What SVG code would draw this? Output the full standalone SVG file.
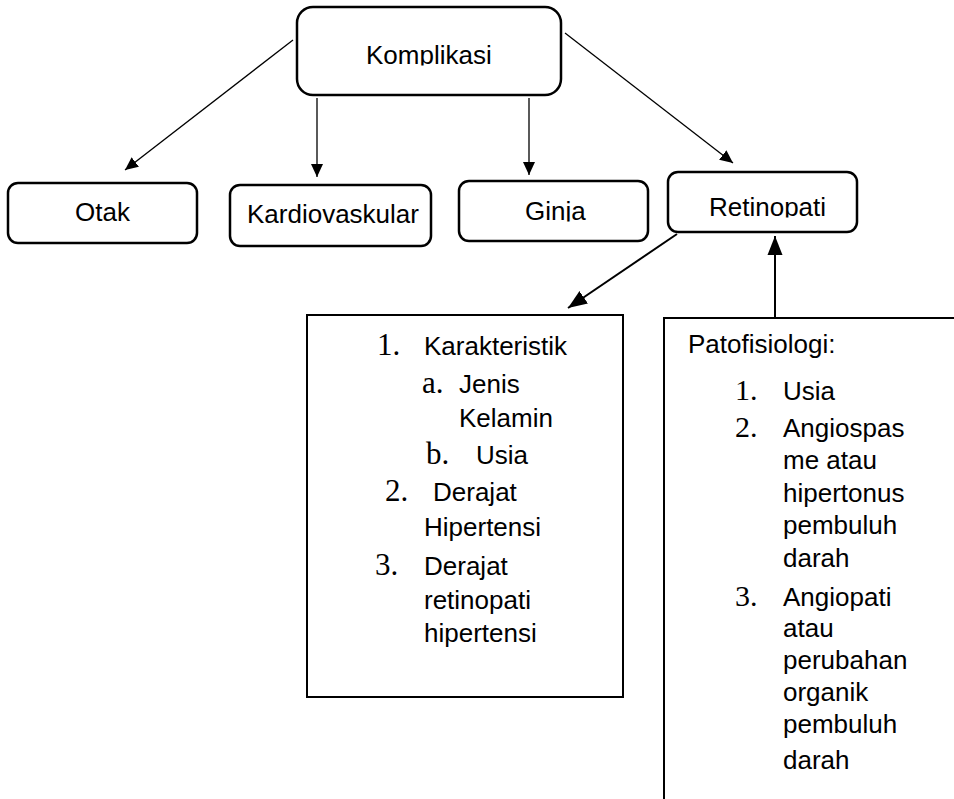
<svg xmlns="http://www.w3.org/2000/svg" width="954" height="799" viewBox="0 0 954 799">
<style>
.box{fill:#fff;stroke:#000;stroke-width:2.5}
.rect{fill:#fff;stroke:#000;stroke-width:2}
.t{font-family:"Liberation Sans",Arial,sans-serif;font-size:26px;fill:#000}
.n{font-family:"Liberation Serif","Times New Roman",serif;font-size:31px;fill:#000}
.n2{font-family:"Liberation Serif","Times New Roman",serif;font-size:30px;fill:#000}
.c{fill:none;stroke:#000;stroke-width:1.3}
.c2{fill:none;stroke:#000;stroke-width:2}
</style>
<defs>
<marker id="ah" markerUnits="userSpaceOnUse" markerWidth="14" markerHeight="14" viewBox="0 0 14 14" refX="13" refY="7" orient="auto">
<path d="M0,1 L13,7 L0,13 Z" fill="#000"/>
</marker>
<marker id="ahL" markerUnits="userSpaceOnUse" markerWidth="20" markerHeight="18" viewBox="0 0 20 18" refX="19" refY="9" orient="auto">
<path d="M0,1.5 L19,9 L0,16.5 Z" fill="#000"/>
</marker>
<clipPath id="clipK"><rect x="300" y="0" width="260" height="65.5"/></clipPath>
<clipPath id="clipG"><rect x="460" y="180" width="188" height="41.5"/></clipPath>
<clipPath id="clipR"><rect x="668" y="172" width="189" height="45.5"/></clipPath>
</defs>

<g id="connectors">
<line class="c" x1="293" y1="40" x2="125" y2="170" marker-end="url(#ah)"/>
<line class="c" x1="317" y1="98" x2="317" y2="177" marker-end="url(#ah)"/>
<line class="c" x1="529" y1="98" x2="529" y2="175" marker-end="url(#ah)"/>
<line class="c" x1="565" y1="33" x2="733" y2="163" marker-end="url(#ah)"/>
<line class="c2" x1="677" y1="234" x2="568" y2="308" marker-end="url(#ahL)"/>
<line class="c2" x1="775" y1="318" x2="775" y2="236" marker-end="url(#ahL)"/>
</g>

<g id="komplikasi">
<rect class="box" x="297" y="7" width="264" height="88" rx="16"/>
<text class="t" x="366" y="64" clip-path="url(#clipK)">Komplikasi</text>
</g>

<g id="otak">
<rect class="box" x="8" y="183" width="189" height="60" rx="10"/>
<text class="t" x="75" y="221">Otak</text>
</g>

<g id="kardiovaskular">
<rect class="box" x="230" y="185" width="201" height="61" rx="10"/>
<text class="t" x="247" y="223">Kardiovaskular</text>
</g>

<g id="ginja">
<rect class="box" x="459" y="181" width="189" height="60" rx="10"/>
<text class="t" x="525" y="220" clip-path="url(#clipG)">Ginja</text>
</g>

<g id="retinopati">
<rect class="box" x="668" y="172" width="189" height="60" rx="10"/>
<text class="t" x="709" y="216" clip-path="url(#clipR)">Retinopati</text>
</g>

<g id="karakteristik">
<rect class="rect" x="307" y="315" width="316" height="382"/>
<text class="n" x="377" y="355">1.</text><text class="t" x="424" y="355">Karakteristik</text>
<text class="n" x="422" y="393">a.</text><text class="t" x="459" y="393">Jenis</text>
<text class="t" x="459" y="427">Kelamin</text>
<text class="n" x="426" y="464">b.</text><text class="t" x="476" y="464">Usia</text>
<text class="n" x="385" y="501">2.</text><text class="t" x="433" y="501">Derajat</text>
<text class="t" x="424" y="536">Hipertensi</text>
<text class="n" x="375" y="575">3.</text><text class="t" x="424" y="575">Derajat</text>
<text class="t" x="424" y="609">retinopati</text>
<text class="t" x="424" y="642">hipertensi</text>
</g>

<g id="patofisiologi">
<path class="rect" d="M956,318 L664,318 L664,801"/>
<text class="t" x="688" y="353">Patofisiologi:</text>
<text class="n2" x="735" y="400">1.</text><text class="t" x="783" y="400">Usia</text>
<text class="n2" x="735" y="437">2.</text><text class="t" x="783" y="437">Angiospas</text>
<text class="t" x="783" y="469">me atau</text>
<text class="t" x="783" y="502">hipertonus</text>
<text class="t" x="783" y="534">pembuluh</text>
<text class="t" x="783" y="567">darah</text>
<text class="n2" x="735" y="606">3.</text><text class="t" x="783" y="606">Angiopati</text>
<text class="t" x="783" y="637">atau</text>
<text class="t" x="783" y="669">perubahan</text>
<text class="t" x="783" y="701">organik</text>
<text class="t" x="783" y="733">pembuluh</text>
<text class="t" x="783" y="769">darah</text>
</g>
</svg>
